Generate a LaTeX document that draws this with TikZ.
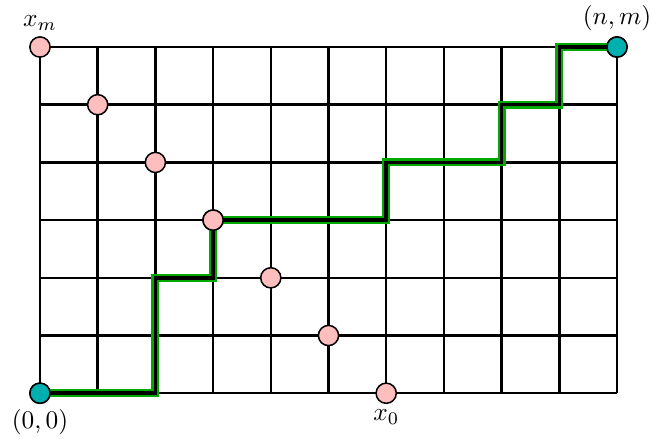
\documentclass[tikz,border=0pt]{standalone}
\usetikzlibrary{positioning}
\definecolor{dotpink}{RGB}{255,190,190}
\definecolor{dotteal}{RGB}{0,176,176}
\definecolor{walkgreen}{RGB}{0,168,0}

\begin{document}
\begin{tikzpicture}[x=0.8cm,y=0.8cm,
  pdot/.style={circle,draw,line width=0.6pt,fill=dotpink,minimum size=2.8mm,inner sep=0pt},
  tdot/.style={circle,draw,line width=0.6pt,fill=dotteal,minimum size=2.8mm,inner sep=0pt},
  lbl/.style={inner sep=1pt}]
  \useasboundingbox (-0.693,-0.78) rectangle (10.572,6.815);
  % lattice
  \draw[line width=1pt,step=0.8cm] (0,0) grid (10,6);
  % corner points
  \node[tdot] (c1) at (0,0) {};
  \node[tdot] (c2) at (10,6) {};
  % diagonal points
  \node[pdot] (p0) at (0,6) {};
  \node[pdot] (p1) at (1,5) {};
  \node[pdot] (p2) at (2,4) {};
  \node[pdot] (p3) at (3,3) {};
  \node[pdot] (p4) at (4,2) {};
  \node[pdot] (p5) at (5,1) {};
  \node[pdot] (p6) at (6,0) {};
  % lattice path
  \draw[walkgreen,line width=3.2pt] (c1.center) -| (2,2) -| (p3.center) -| (6,4) -| (8,5) -| (9,6) -- (c2.center);
  \draw[line width=1.4pt] (c1.center) -| (2,2) -| (p3.center) -| (6,4) -| (8,5) -| (9,6) -- (c2.center);
  % redraw points on top
  \node[tdot] at (c1) {};
  \node[tdot] at (c2) {};
  \node[pdot] at (p3) {};
  % labels
  \node[lbl,above=1pt of p0] (lm) {$x_m$};
  \node[lbl,above=1pt of c2] (lnm) {$(n,m)$};
  \node[lbl,below=1pt of c1] (loo) {$(0,0)$};
  \node[lbl,below=1pt of p6] (l0) {$x_0$};
\end{tikzpicture}
\end{document}
